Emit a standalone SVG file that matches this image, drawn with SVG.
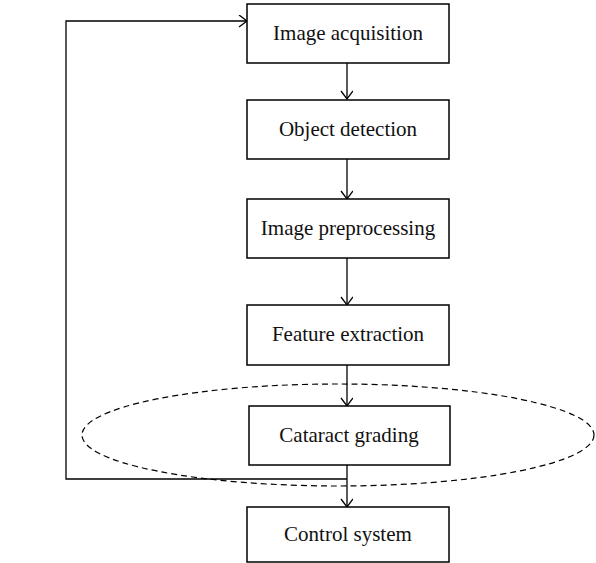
<svg xmlns="http://www.w3.org/2000/svg" width="596" height="563" viewBox="0 0 596 563">
<defs>
<style>
.box{fill:#fff;stroke:#000;stroke-width:1.5}
.lbl{font-family:"Liberation Serif","Times New Roman",serif;font-size:21px;fill:#111;text-anchor:middle}
.ln{fill:none;stroke:#000;stroke-width:1.3}
</style>
<marker id="ah" markerWidth="14" markerHeight="14" refX="10" refY="6" orient="auto" markerUnits="userSpaceOnUse">
<path d="M2,0 L10,6 L2,12" fill="none" stroke="#000" stroke-width="1.3"/>
</marker>
</defs>
<g id="connectors">
<line class="ln" x1="347" y1="63" x2="347" y2="99" marker-end="url(#ah)"/>
<line class="ln" x1="347" y1="159" x2="347" y2="199" marker-end="url(#ah)"/>
<line class="ln" x1="347" y1="258" x2="347" y2="305" marker-end="url(#ah)"/>
<line class="ln" x1="347" y1="365" x2="347" y2="406" marker-end="url(#ah)"/>
<line class="ln" x1="347" y1="465" x2="347" y2="507" marker-end="url(#ah)"/>
<polyline class="ln" points="347,479 66,479 66,21 247,21" marker-end="url(#ah)"/>
</g>
<g id="ellipse">
<ellipse cx="338" cy="435" rx="256" ry="51" fill="none" stroke="#000" stroke-width="1.2" stroke-dasharray="6,4"/>
</g>
<g id="n1"><rect class="box" x="247" y="4" width="202" height="59"/><text class="lbl" x="348" y="40">Image acquisition</text></g>
<g id="n2"><rect class="box" x="247" y="100" width="202" height="59"/><text class="lbl" x="348" y="136">Object detection</text></g>
<g id="n3"><rect class="box" x="247" y="199" width="202" height="59"/><text class="lbl" x="348" y="235">Image preprocessing</text></g>
<g id="n4"><rect class="box" x="247" y="305" width="202" height="60"/><text class="lbl" x="348" y="341">Feature extraction</text></g>
<g id="n5"><rect class="box" x="249" y="406" width="201" height="59"/><text class="lbl" x="349" y="442">Cataract grading</text></g>
<g id="n6"><rect class="box" x="247" y="507" width="202" height="55"/><text class="lbl" x="348" y="541">Control system</text></g>
</svg>
